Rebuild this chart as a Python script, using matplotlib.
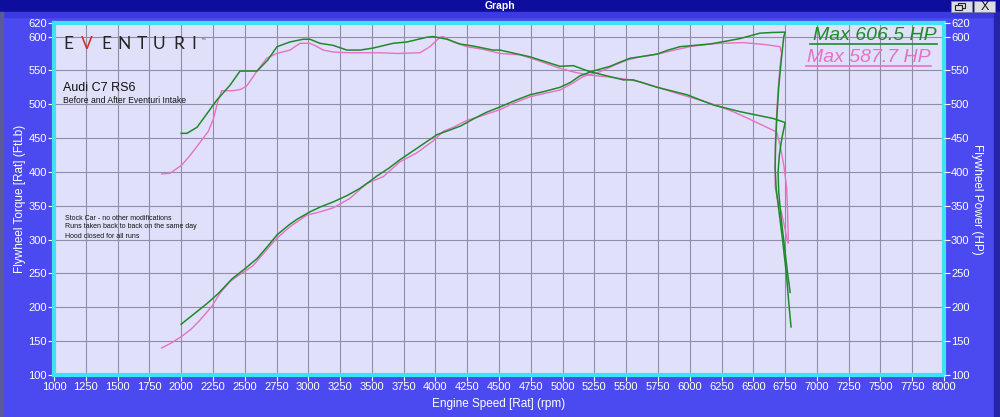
import numpy as np
import matplotlib
matplotlib.use("Agg")
import matplotlib.pyplot as plt
from matplotlib.patches import Rectangle
from matplotlib.lines import Line2D

plt.rcParams["font.family"] = ["Liberation Sans", "DejaVu Sans"]

# after (Eventuri intake) - green
after_tq_rpm = [2000, 2046, 2125, 2172, 2280, 2384, 2463, 2597, 2680, 2754, 2856, 2960, 3013, 3092,
                3195, 3304, 3407, 3510, 3667, 3777, 3934, 3981, 4091, 4193, 4296, 4453, 4508, 4744,
                4980, 5084, 5216, 5477, 5556, 5743, 5979, 6184, 6396, 6655, 6750,
                6745, 6725, 6705, 6695, 6700, 6720, 6745, 6770, 6790]
after_tq = [457, 457, 466, 478, 506, 528, 549, 549, 565, 585, 592, 596, 596, 590,
            587, 580, 580, 583, 590, 592, 599, 600, 596, 589, 586, 580, 580, 570,
            556, 557, 548, 536, 536, 525, 514, 499, 489, 479, 473,
            468, 450, 425, 400, 370, 330, 290, 250, 222]

after_hp_rpm = [2000, 2100, 2200, 2290, 2400, 2502, 2597, 2680, 2754, 2850, 2911, 3013, 3092, 3200,
                3304, 3400, 3462, 3540, 3630, 3721, 3855, 4012, 4115, 4200, 4296, 4400, 4508, 4620,
                4744, 4860, 4980, 5060, 5137, 5240, 5374, 5450, 5531, 5643, 5743, 5830, 5924, 6040,
                6160, 6280, 6396, 6553, 6650, 6750,
                6740, 6720, 6700, 6685, 6675, 6672, 6680, 6700, 6730, 6760, 6780, 6797]
after_hp = [175, 190, 205, 220, 242, 257, 272, 290, 307, 322, 330, 341, 348, 356,
            365, 375, 383, 394, 405, 418, 435, 455, 462, 468, 478, 488, 496, 505,
            514, 519, 525, 532, 542, 549, 556, 562, 568, 571, 574, 580, 585, 587,
            589, 593, 597, 605, 606, 606.5,
            600, 565, 525, 480, 440, 405, 375, 345, 300, 250, 205, 171]

# before (stock) - pink
before_tq_rpm = [1847, 1913, 2004, 2060, 2122, 2214, 2253, 2290, 2319, 2411, 2470, 2516, 2600, 2673,
                 2752, 2856, 2935, 3013, 3060, 3118, 3200, 3328, 3564, 3700, 3878, 3957, 4036, 4062,
                 4141, 4246, 4377, 4508, 4665, 4800, 4980, 5100, 5216, 5374, 5500, 5610, 5767, 5900,
                 6081, 6200, 6341, 6459, 6560, 6684,
                 6710, 6740, 6762, 6770, 6775]
before_tq = [397, 398, 410, 422, 437, 460, 478, 505, 520, 520, 522, 527, 550, 568,
             575, 580, 590, 590, 586, 580, 577, 576, 576, 575, 576, 585, 599, 600,
             592, 585, 581, 575, 573, 565, 553, 547, 543, 540, 537, 533, 524, 516,
             506, 499, 489, 479, 470, 459,
             440, 410, 378, 340, 297]

before_hp_rpm = [1847, 1920, 2004, 2080, 2148, 2240, 2306, 2384, 2450, 2516, 2568, 2673, 2752, 2856,
                 2987, 3092, 3197, 3328, 3460, 3590, 3721, 3852, 3983, 4062, 4141, 4246, 4380, 4508,
                 4620, 4744, 4860, 4980, 5070, 5163, 5294, 5400, 5504, 5610, 5767, 5880, 6003, 6120,
                 6239, 6423, 6600, 6710,
                 6723, 6710, 6697, 6685, 6675, 6672, 6672, 6690, 6723, 6750, 6762, 6775]
before_hp = [140, 147, 157, 168, 181, 201, 221, 238, 247, 255, 262, 285, 302, 319,
             336, 341, 347, 361, 383, 393, 415, 428, 446, 460, 466, 476, 484, 492,
             502, 511, 516, 521, 530, 541, 548, 557, 565, 570, 575, 580, 585, 588,
             590, 591, 588, 585,
             575, 555, 526, 490, 450, 410, 378, 360, 339, 315, 304, 295]

x_ticks = list(range(1000, 8001, 250))
y_ticks = list(range(100, 601, 50)) + [620]

GREEN = "#1f8a2c"
PINK = "#e672c4"
BG = "#4a4af0"

W, H = 1000, 417
fig = plt.figure(figsize=(W / 100, H / 100), dpi=100)
fig.patch.set_facecolor(BG)


def fx(px):
    return px / W


def fy(py):
    return 1 - py / H


def frect(x0, y0, w, h, **kw):
    # rectangle in pixel coords, y0 = top edge
    fig.add_artist(Rectangle((fx(x0), fy(y0 + h)), w / W, h / H, transform=fig.transFigure, **kw))


# window chrome
frect(0, 0, W, 12, color="#0e0e9e", zorder=0)
frect(0, 12, W, 5, color="#3a3ae0", zorder=0)
frect(0, 12, 3, H, color="#5a5a98", zorder=0)
frect(994, 12, 6, H, color="#2424a8", zorder=0)
fig.text(0.5, fy(6), "Graph", color="white", fontsize=7.5, fontweight="bold", ha="center", va="center")
for x0 in (951, 974):
    frect(x0, 1, 21, 11, facecolor="#dcdce6", edgecolor="#8080a0", lw=0.6)
# restore-window icon
frect(958, 3, 7, 5, facecolor="none", edgecolor="#202020", lw=0.8)
frect(955, 5, 7, 5, facecolor="#dcdce6", edgecolor="#202020", lw=0.8)
fig.text(fx(985), fy(6.5), "X", color="#101010", fontsize=9, ha="center", va="center")

ax = fig.add_axes([fx(54), fy(375), fx(890), 352 / H])
ax.set_facecolor("#e0e0fa")
ax.set_xlim(1000, 8000)
ax.set_ylim(100, 620)
ax.set_xticks(x_ticks)
ax.set_yticks(y_ticks)
ax.grid(True, color="#8e8ea4", lw=0.8)
ax.set_axisbelow(True)

ax.plot(before_tq_rpm, before_tq, color=PINK, lw=1.0)
ax.plot(before_hp_rpm, before_hp, color=PINK, lw=1.0)
ax.plot(after_tq_rpm, after_tq, color=GREEN, lw=1.1)
ax.plot(after_hp_rpm, after_hp, color=GREEN, lw=1.1)

for s in ax.spines.values():
    s.set_color("#3ee2f2")
    s.set_linewidth(3)

ax.tick_params(axis="both", colors="white", labelcolor="white", labelsize=8, length=4, width=0.8, pad=1)
ax.set_xlabel("Engine Speed [Rat] (rpm)", color="white", fontsize=8.5, labelpad=4)
ax.set_ylabel("Flywheel Torque [Rat] (FtLb)", color="white", fontsize=8.5, labelpad=2)

ax2 = ax.twinx()
ax2.set_ylim(100, 620)
ax2.set_yticks(y_ticks)
ax2.tick_params(axis="y", colors="white", labelcolor="white", labelsize=8, length=4, width=0.8, pad=1)
for s in ax2.spines.values():
    s.set_visible(False)
ax2.set_ylabel("Flywheel Power (HP)", color="white", fontsize=8.5, rotation=270, labelpad=10)

# logo
logo = ["E", "V", "E", "N", "T", "U", "R", "I"]
logo_x = [68, 87, 106, 124, 142, 159, 179, 194]
for i, (ch, px) in enumerate(zip(logo, logo_x)):
    fig.text(fx(px), fy(44), ch, color="#d42a2a" if i == 1 else "#262626",
             fontsize=12.5, ha="center", va="center", family=["Lato", "DejaVu Sans"])
fig.text(fx(203), fy(39), "\u2122", color="#555555", fontsize=3.5, ha="center", va="center")

fig.text(fx(63), fy(88), "Audi C7 RS6", color="#111111", fontsize=9, ha="left", va="center")
fig.text(fx(63), fy(100.5), "Before and After Eventuri Intake", color="#111111", fontsize=6.2,
         ha="left", va="center")
notes = ["Stock Car - no other modifications", "Runs taken back to back on the same day",
         "Hood closed for all runs"]
for i, t in enumerate(notes):
    fig.text(fx(65), fy(218 + 9 * i), t, color="#111111", fontsize=5, ha="left", va="center")

fig.text(fx(937), fy(35), "Max 606.5 HP", color=GREEN, fontsize=14, style="italic", ha="right", va="center")
fig.add_artist(Line2D([fx(810), fx(937)], [fy(44), fy(44)], transform=fig.transFigure, color=GREEN, lw=1.2))
fig.text(fx(931), fy(57), "Max 587.7 HP", color=PINK, fontsize=14, style="italic", ha="right", va="center")
fig.add_artist(Line2D([fx(806), fx(931)], [fy(66), fy(66)], transform=fig.transFigure, color=PINK, lw=1.2))

fig.savefig("out.png", dpi=100, facecolor=fig.get_facecolor())
